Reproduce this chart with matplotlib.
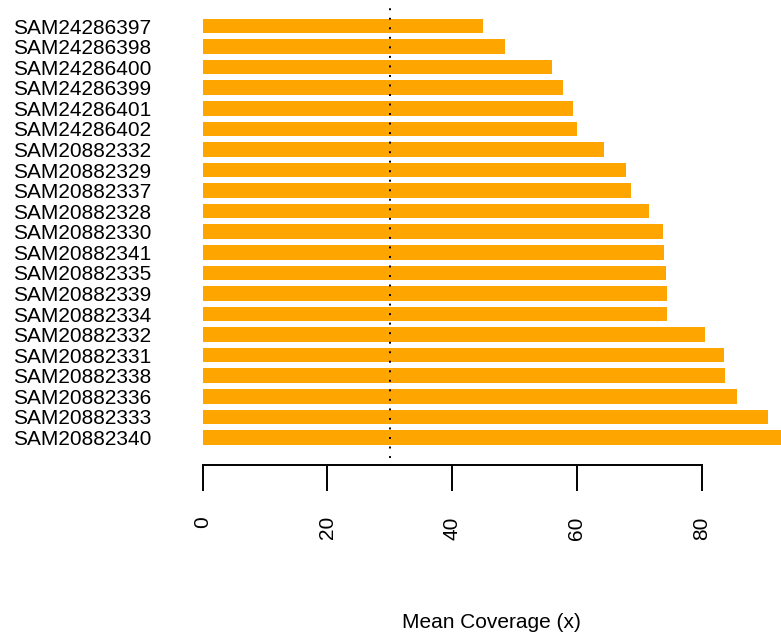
import matplotlib.pyplot as plt

samples = ["SAM24286397", "SAM24286398", "SAM24286400", "SAM24286399",
           "SAM24286401", "SAM24286402", "SAM20882332", "SAM20882329",
           "SAM20882337", "SAM20882328", "SAM20882330", "SAM20882341",
           "SAM20882335", "SAM20882339", "SAM20882334", "SAM20882332",
           "SAM20882331", "SAM20882338", "SAM20882336", "SAM20882333",
           "SAM20882340"]
coverage = [45.0, 48.4, 56.0, 57.7, 59.3, 60.0, 64.3, 67.8, 68.6, 71.6,
            73.8, 74.0, 74.2, 74.4, 74.4, 80.6, 83.5, 83.8, 85.7, 90.7, 95.0]
x_ticks = [0, 20, 40, 60, 80]
threshold = 30

plt.rcParams['font.family'] = ['Liberation Sans', 'DejaVu Sans']

W, H = 781, 634
fig = plt.figure(figsize=(W / 100, H / 100), dpi=100)
left, right, top, bottom = 202.5, 781, 8, 458
ax = fig.add_axes([left / W, 1 - bottom / H, (right - left) / W, (bottom - top) / H])

pos = list(range(len(samples)))
ax.barh(pos, coverage, height=0.714, color='#FFA500', edgecolor='none')
ax.axvline(threshold, color='black', lw=1.4, linestyle=(0, (1, 3.9)))

ax.set_xlim(0, (right - left) / 6.24)
ax.set_ylim(len(samples) - 1 + 1.0, -0.875)

for s in ['top', 'right', 'left']:
    ax.spines[s].set_visible(False)
ax.spines['bottom'].set_bounds(0, 80)
ax.spines['bottom'].set_position(('outward', 5))
ax.spines['bottom'].set_linewidth(1.4)

ax.set_xticks(x_ticks)
ax.set_xticklabels([str(t) for t in x_ticks], rotation=90, fontsize=15)
ax.tick_params(axis='x', length=18.4, width=1.4, pad=18.5)

ax.set_yticks(pos)
ax.set_yticklabels(samples, fontsize=15)
ax.tick_params(axis='y', length=0, pad=37)

fig.text(491.75 / W, 1 - 623 / H, "Mean Coverage (x)", fontsize=15,
         ha='center', va='center')

fig.savefig("out.png", dpi=100)
